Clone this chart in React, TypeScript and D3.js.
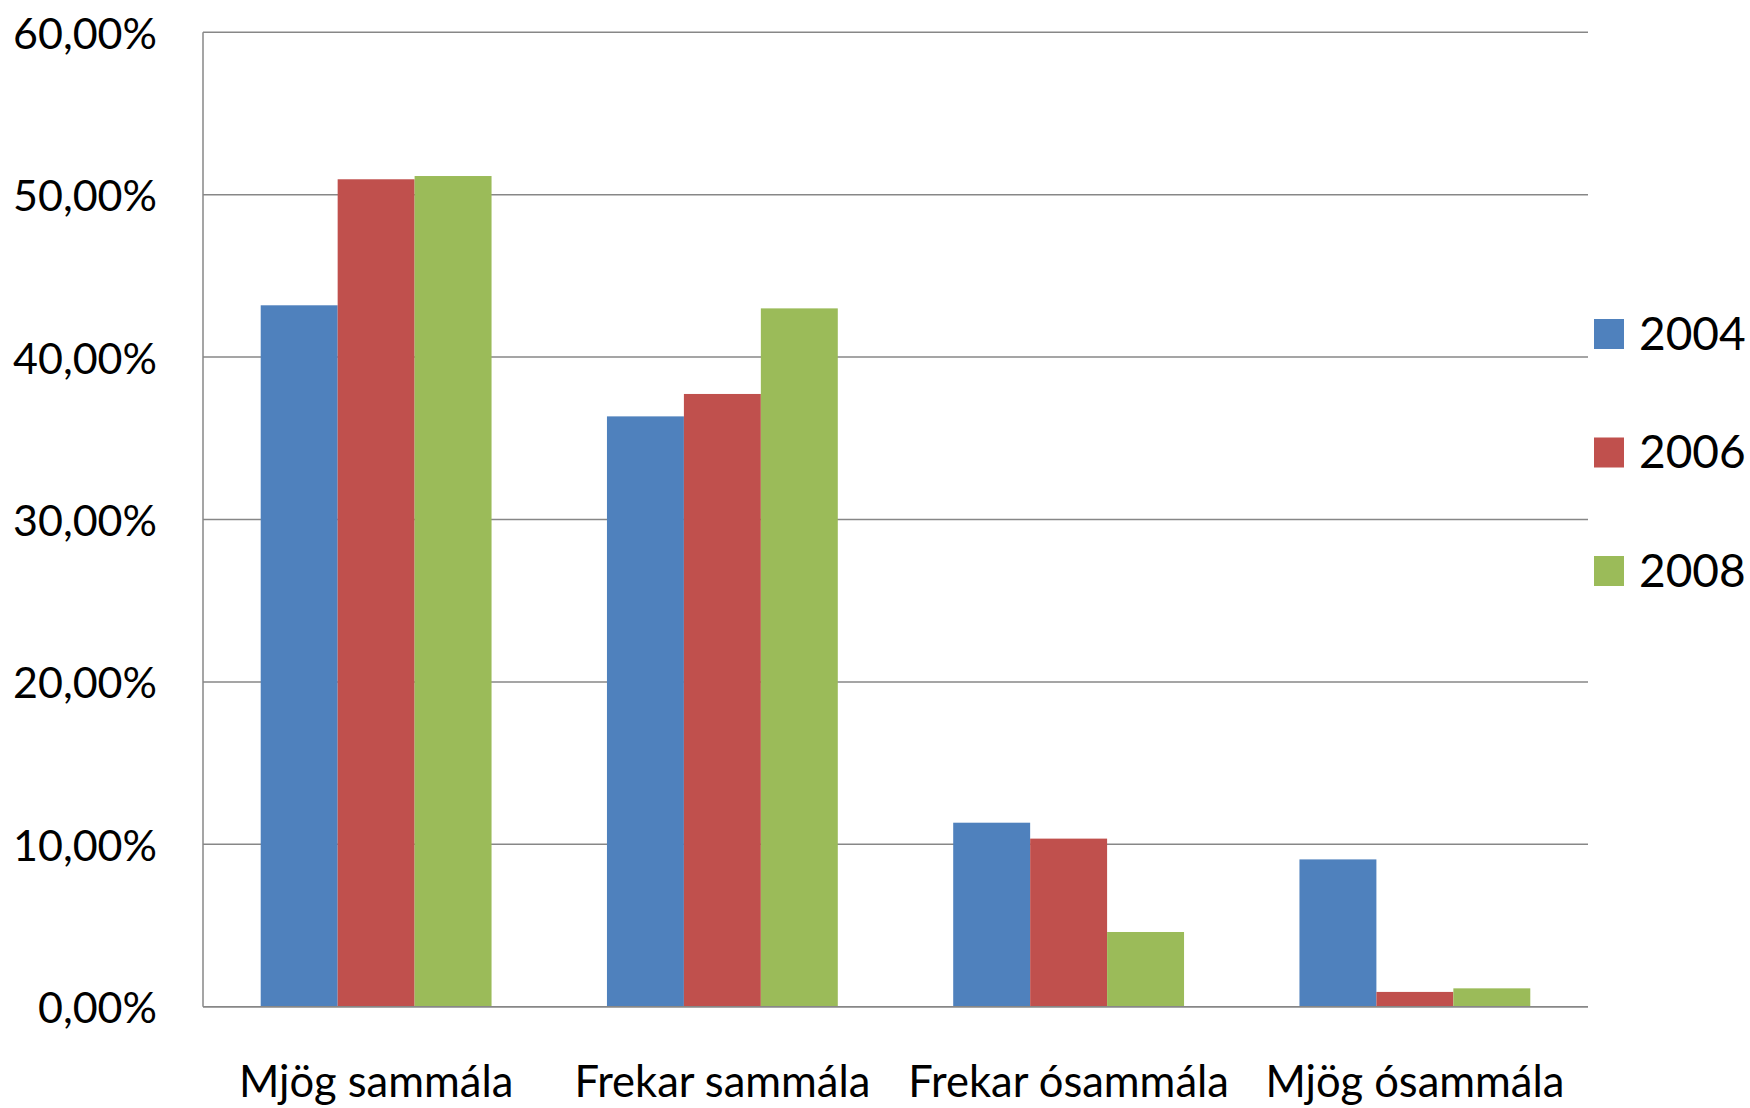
import React from "react";
import * as d3 from "d3";

const categories = ["Mjög sammála", "Frekar sammála", "Frekar ósammála", "Mjög ósammála"];
const seriesNames = ["2004", "2006", "2008"];
const values2004 = [0.4319, 0.3635, 0.1133, 0.0907];
const values2006 = [0.5095, 0.3773, 0.1035, 0.0091];
const values2008 = [0.5115, 0.4300, 0.0460, 0.0113];
const seriesColors = ["#4F81BD", "#C0504D", "#9BBB59"];
const yTicks = [0, 0.1, 0.2, 0.3, 0.4, 0.5, 0.6];

const W = 1750;
const H = 1108;
const plotLeft = 203;
const plotRight = 1588;
const plotTop = 32.3;
const plotBottom = 1006.7;
const FONT = "Lato, 'Open Sans', sans-serif";

export default function App() {
  const seriesValues = [values2004, values2006, values2008];
  const x0 = d3.scaleBand<string>().domain(categories).range([plotLeft, plotRight]).paddingInner(0).paddingOuter(0);
  const x1 = d3.scaleBand<string>().domain(seriesNames).range([0, x0.bandwidth()]).paddingInner(0).paddingOuter(0.75);
  const y = d3.scaleLinear().domain([0, 0.6]).range([plotBottom, plotTop]);
  const fmt = (v: number) => d3.format(".2f")(v * 100).replace(".", ",") + "%";

  return (
    <svg width={W} height={H} style={{ position: "absolute", left: 0, top: 0, background: "#fff" }} fontFamily={FONT}>
      <rect x={0} y={0} width={W} height={H} fill="#fff" />
      {yTicks.map((t) => (
        <line key={"g" + t} x1={plotLeft} x2={plotRight} y1={y(t)} y2={y(t)} stroke="#878787" strokeWidth={1.5} />
      ))}
      <line x1={plotLeft} x2={plotLeft} y1={plotTop} y2={plotBottom} stroke="#878787" strokeWidth={1.5} />
      {categories.map((c, ci) =>
        seriesNames.map((s, si) => {
          const v = seriesValues[si][ci];
          return (
            <rect
              key={c + s}
              x={(x0(c) as number) + (x1(s) as number)}
              y={y(v)}
              width={x1.bandwidth()}
              height={plotBottom - y(v)}
              fill={seriesColors[si]}
            />
          );
        })
      )}
      <line x1={plotLeft} x2={plotRight} y1={plotBottom} y2={plotBottom} stroke="#878787" strokeWidth={1.5} />
      {yTicks.map((t) => (
        <text key={"t" + t} x={157} y={y(t)} textAnchor="end" dominantBaseline="central" fontSize={43} fill="#000">
          {fmt(t)}
        </text>
      ))}
      {categories.map((c) => (
        <text key={"c" + c} x={(x0(c) as number) + x0.bandwidth() / 2} y={1097} textAnchor="middle" fontSize={43.5} fill="#000">
          {c}
        </text>
      ))}
      {seriesNames.map((s, si) => {
        const cy = 334 + si * 118.5;
        return (
          <g key={"l" + s}>
            <rect x={1594} y={cy - 15} width={30} height={30} fill={seriesColors[si]} />
            <text x={1639} y={cy - 2} dominantBaseline="central" fontSize={46} fill="#000">
              {s}
            </text>
          </g>
        );
      })}
    </svg>
  );
}
